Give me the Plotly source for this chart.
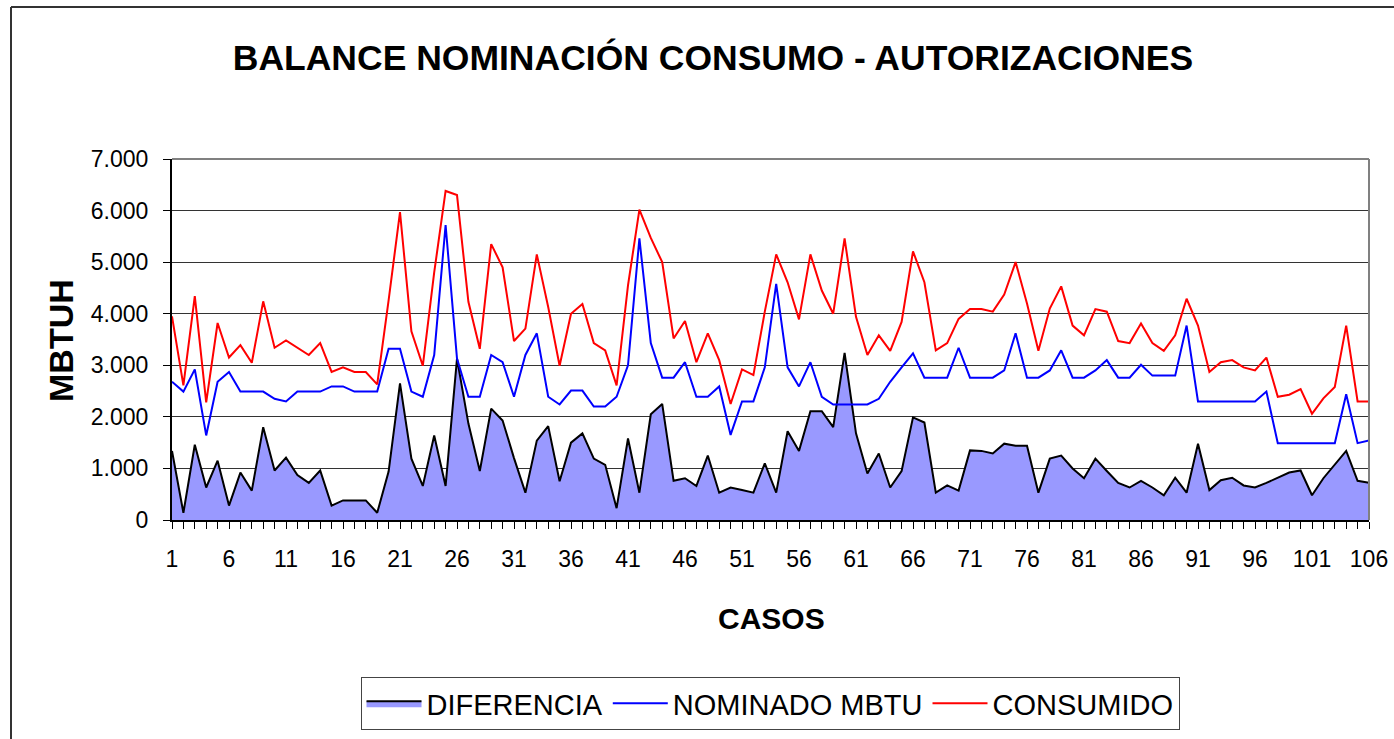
import plotly.graph_objects as go

casos = list(range(1, 107))

consumido = [3950, 2610, 4340, 2280, 3820, 3150, 3390, 3050, 4240, 3340,
             3480, 3340, 3200, 3430, 2870, 2960, 2870, 2870, 2630, 4260,
             5970, 3660, 2990, 4800, 6380, 6300, 4230, 3320, 5350, 4900,
             3470, 3710, 5150, 4130, 2990, 4000, 4190, 3430, 3290, 2610,
             4550, 6020, 5470, 5000, 3520, 3860, 3060, 3620, 3100, 2250,
             2920, 2810, 4040, 5150, 4610, 3890, 5150, 4450, 4000, 5460,
             3940, 3200, 3580, 3280, 3840, 5210, 4610, 3290, 3430, 3900,
             4090, 4090, 4040, 4370, 5000, 4200, 3280, 4100, 4530, 3770,
             3580, 4090, 4040, 3470, 3430, 3810, 3430, 3280, 3580, 4290,
             3770, 2870, 3060, 3100, 2960, 2900, 3150, 2390, 2430, 2540,
             2060, 2360, 2580, 3770, 2300, 2300]

nominado = [2680, 2490, 2920, 1640, 2680, 2870, 2490, 2490, 2490, 2350,
            2300, 2490, 2490, 2490, 2590, 2590, 2490, 2490, 2490, 3320,
            3320, 2490, 2390, 3200, 5720, 3130, 2390, 2390, 3200, 3060,
            2390, 3200, 3620, 2390, 2240, 2510, 2510, 2200, 2200, 2390,
            3000, 5460, 3430, 2760, 2760, 3060, 2390, 2390, 2590, 1650,
            2300, 2300, 2960, 4580, 2960, 2590, 3060, 2390, 2240, 2240,
            2240, 2240, 2350, 2680, 2960, 3230, 2760, 2760, 2760, 3340,
            2760, 2760, 2760, 2900, 3620, 2760, 2760, 2900, 3290, 2760,
            2760, 2900, 3100, 2760, 2760, 3010, 2800, 2800, 2800, 3770,
            2300, 2300, 2300, 2300, 2300, 2300, 2490, 1490, 1490, 1490,
            1490, 1490, 1490, 2440, 1490, 1540]

diferencia = [1340, 140, 1460, 630, 1150, 280, 920, 570, 1800, 960,
              1210, 870, 720, 960, 280, 380, 380, 380, 140, 940,
              2650, 1190, 660, 1640, 660, 3130, 1870, 950, 2160, 1930,
              1200, 530, 1540, 1820, 750, 1500, 1680, 1190, 1070, 230,
              1580, 530, 2050, 2250, 760, 810, 660, 1250, 530, 630,
              580, 530, 1100, 530, 1720, 1340, 2110, 2110, 1800, 3240,
              1680, 900, 1290, 630, 950, 1990, 1890, 530, 670, 570,
              1350, 1340, 1290, 1480, 1440, 1440, 530, 1190, 1250, 1000,
              810, 1190, 950, 720, 630, 760, 630, 480, 820, 530,
              1480, 580, 770, 820, 670, 630, 720, 820, 920, 960,
              480, 810, 1080, 1340, 760, 720]

x_tick_vals = list(range(1, 107, 5))
y_tick_vals = [0, 1000, 2000, 3000, 4000, 5000, 6000, 7000]

FONT = "Liberation Sans, Arial, sans-serif"

fig = go.Figure()
fig.add_trace(go.Scatter(
    x=casos, y=diferencia, name="DIFERENCIA", mode="lines",
    fill="tozeroy", fillcolor="#9999FF",
    line=dict(color="black", width=2)))
fig.add_trace(go.Scatter(
    x=casos, y=nominado, name="NOMINADO MBTU", mode="lines",
    line=dict(color="#0000FF", width=2)))
fig.add_trace(go.Scatter(
    x=casos, y=consumido, name="CONSUMIDO", mode="lines",
    line=dict(color="#FF0000", width=2)))

L, R, T, B = 172, 1369, 159, 520
W, H = 1394, 739
pw, ph = R - L, B - T

def px(xp):
    return (xp - L) / pw

def py(yp):
    return (B - yp) / ph

fig.update_layout(
    width=W, height=H,
    margin=dict(l=L, r=W - R, t=T, b=H - B, autoexpand=False),
    paper_bgcolor="white", plot_bgcolor="white",
    separators=",.",
    font=dict(family=FONT, color="black"),
    showlegend=True,
    title=dict(text="<b>BALANCE NOMINACIÓN CONSUMO - AUTORIZACIONES</b>",
               font=dict(size=35.5, family=FONT, color="black"),
               x=713 / W, xanchor="center", xref="container",
               y=1 - 58 / H, yanchor="middle", yref="container"),
    legend=dict(orientation="h", x=px(770), xanchor="center",
                y=py(677), yanchor="top",
                bordercolor="#444444", borderwidth=1, bgcolor="white",
                font=dict(size=29, family=FONT, color="black"),
                itemwidth=55, tracegroupgap=0),
    xaxis=dict(range=[1, 106], tickmode="array", tickvals=x_tick_vals,
               ticks="outside", ticklen=7, tickcolor="black", tickwidth=1,
               ticklabelstandoff=10,
               minor=dict(ticks="outside", ticklen=7, dtick=1, tick0=1,
                          tickcolor="black", tickwidth=1, showgrid=False),
               showline=True, linecolor="black", linewidth=2,
               showgrid=False, zeroline=False,
               tickfont=dict(size=23, family=FONT, color="black"),
               fixedrange=True),
    yaxis=dict(range=[0, 7000], tickmode="array", tickvals=y_tick_vals,
               tickformat=",d",
               ticks="outside", ticklen=7, tickcolor="black", tickwidth=1,
               ticklabelstandoff=10,
               showline=True, linecolor="black", linewidth=2,
               showgrid=True, gridcolor="#333333", gridwidth=1,
               zeroline=False,
               tickfont=dict(size=23, family=FONT, color="black"),
               fixedrange=True),
    annotations=[
        dict(text="<b>MBTUH</b>", xref="paper", yref="paper",
             x=px(61), y=py(341), xanchor="center", yanchor="middle",
             textangle=-90, showarrow=False,
             font=dict(size=34, family=FONT, color="black")),
        dict(text="<b>CASOS</b>", xref="paper", yref="paper",
             x=px(771), y=py(618), xanchor="center", yanchor="middle",
             showarrow=False,
             font=dict(size=30, family=FONT, color="black")),
    ],
    shapes=[
        dict(type="line", xref="paper", yref="paper", x0=0, x1=1, y0=1, y1=1,
             line=dict(color="#808080", width=2)),
        dict(type="line", xref="paper", yref="paper", x0=1, x1=1, y0=0, y1=1,
             line=dict(color="#808080", width=2)),
        dict(type="line", xref="paper", yref="paper",
             x0=px(11), x1=px(11), y0=py(745), y1=py(7),
             line=dict(color="#333333", width=2)),
        dict(type="line", xref="paper", yref="paper",
             x0=px(11), x1=px(1400), y0=py(7), y1=py(7),
             line=dict(color="#333333", width=2)),
    ],
)

fig.write_html(
    "out.html",
    config={"displayModeBar": False},
    post_script="document.body.style.margin='0';document.body.style.overflow='hidden';",
)
